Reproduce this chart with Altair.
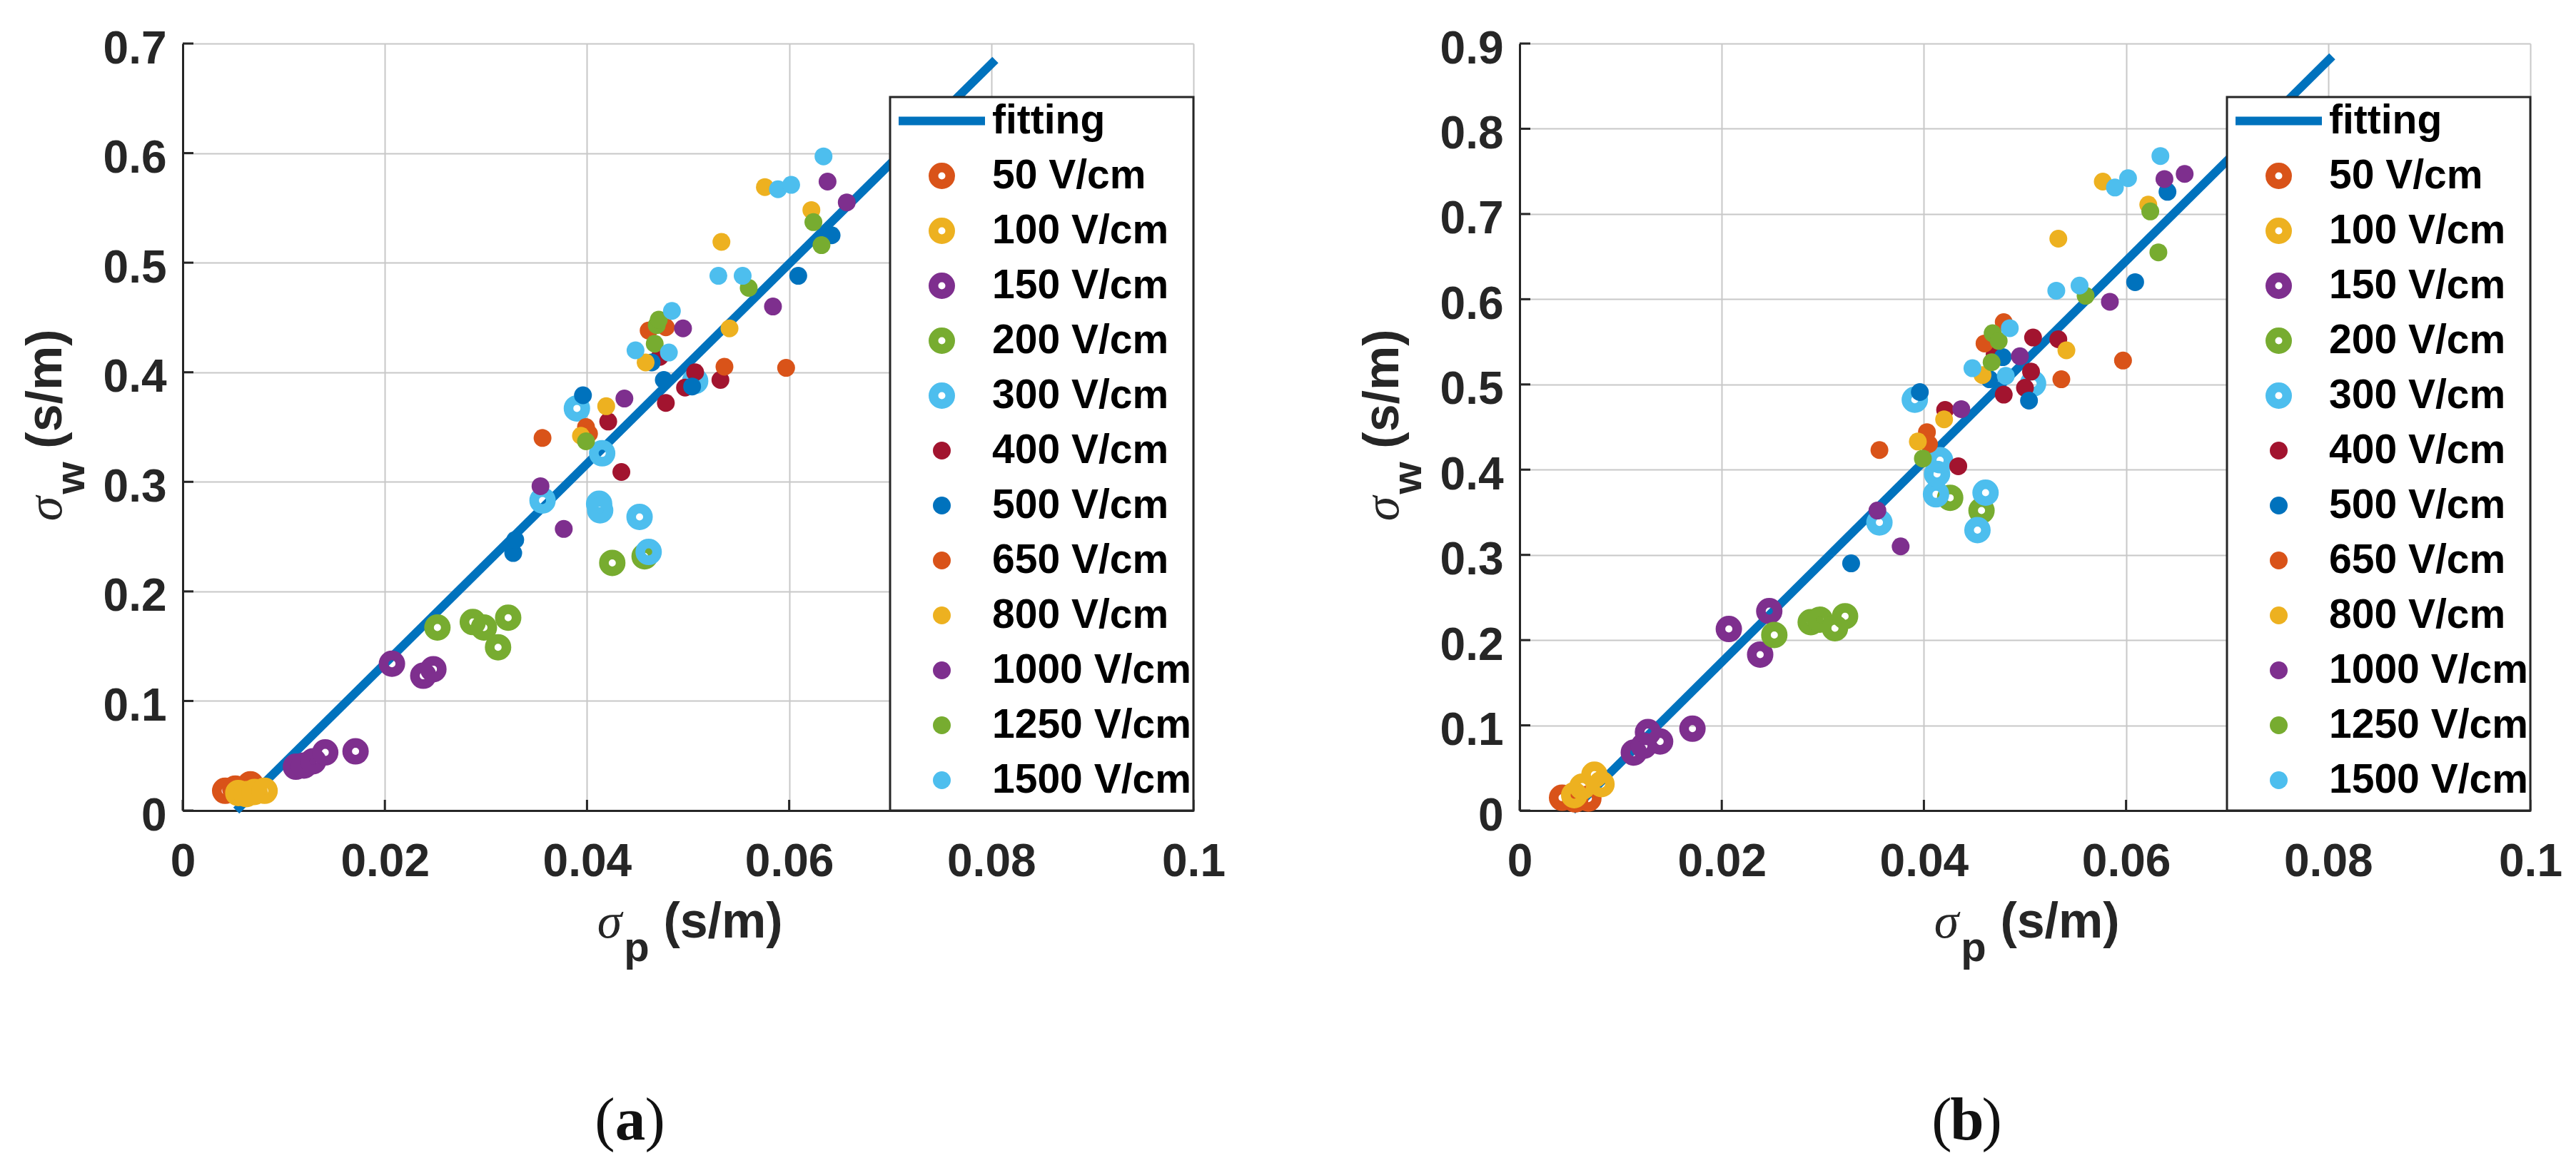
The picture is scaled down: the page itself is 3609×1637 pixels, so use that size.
import altair as alt
import pandas as pd

# ---------------- legend / series definition ----------------
SERIES = ["fitting", "50 V/cm", "100 V/cm", "150 V/cm", "200 V/cm", "300 V/cm",
          "400 V/cm", "500 V/cm", "650 V/cm", "800 V/cm", "1000 V/cm",
          "1250 V/cm", "1500 V/cm"]
LINE_COLOR = "#0072BD"
RING_COLORS = ["#D95319", "#EDB120", "#7E2F8E", "#77AC30", "#4DBEEE"]
DOT_COLORS = ["#A2142F", "#0072BD", "#D95319", "#EDB120", "#7E2F8E", "#77AC30", "#4DBEEE"]
STROKES = ["transparent"] + RING_COLORS + ["transparent"] * 7
FILLS = [LINE_COLOR] + ["transparent"] * 5 + DOT_COLORS
# legend symbol for "fitting": a bar (the extra zero-length sub-paths only set the row height)
SHAPES = ["M-2,-0.2H2V0.2H-2Z M0,-1.28L0,-1.28 M0,1.28L0,1.28"] + ["circle"] * 12
SIZES = [3660.25] + [552] * 5 + [625] * 7
STROKE_W = [0] + [13.5] * 5 + [13.125] * 7

X_TICKS = [0, 0.02, 0.04, 0.06, 0.08, 0.1]
A_Y_TICKS = [0, 0.1, 0.2, 0.3, 0.4, 0.5, 0.6, 0.7]
B_Y_TICKS = [0, 0.1, 0.2, 0.3, 0.4, 0.5, 0.6, 0.7, 0.8, 0.9]

# ---------------- panel (a) data ----------------
A_FIT_X = [0.0053, 0.0804]
A_FIT_Y = [0.0, 0.685]
A50_X = [0.0042, 0.0052, 0.0067]
A50_Y = [0.018, 0.020, 0.024]
A100_X = [0.0055, 0.0063, 0.0071, 0.0081]
A100_Y = [0.016, 0.015, 0.017, 0.018]
A150_X = [0.0112, 0.0120, 0.0129, 0.0141, 0.0171, 0.0207, 0.0238, 0.0248]
A150_Y = [0.040, 0.041, 0.045, 0.053, 0.054, 0.134, 0.123, 0.129]
A200_X = [0.0252, 0.0287, 0.0298, 0.0312, 0.0322, 0.0425, 0.0457]
A200_Y = [0.167, 0.172, 0.167, 0.149, 0.176, 0.226, 0.232]
A300_X = [0.0356, 0.0390, 0.0412, 0.0413, 0.0415, 0.0452, 0.0461, 0.0507]
A300_Y = [0.283, 0.367, 0.280, 0.274, 0.326, 0.268, 0.236, 0.392]
A400_X = [0.0421, 0.0434, 0.0472, 0.0478, 0.0497, 0.0507, 0.0532]
A400_Y = [0.355, 0.309, 0.414, 0.372, 0.386, 0.400, 0.393]
A500_X = [0.0327, 0.0329, 0.0396, 0.0464, 0.0476, 0.0504, 0.0609, 0.0642]
A500_Y = [0.235, 0.247, 0.379, 0.409, 0.393, 0.387, 0.488, 0.525]
A650_X = [0.0356, 0.0399, 0.0402, 0.0461, 0.0478, 0.0536, 0.0597]
A650_Y = [0.340, 0.350, 0.344, 0.438, 0.441, 0.405, 0.404]
A800_X = [0.0394, 0.0419, 0.0458, 0.0533, 0.0541, 0.0576, 0.0622]
A800_Y = [0.342, 0.369, 0.409, 0.519, 0.440, 0.569, 0.548]
A1000_X = [0.0354, 0.0377, 0.0437, 0.0495, 0.0584, 0.0638, 0.0657]
A1000_Y = [0.296, 0.257, 0.376, 0.440, 0.460, 0.574, 0.555]
A1250_X = [0.0399, 0.0467, 0.0469, 0.0471, 0.0560, 0.0624, 0.0632]
A1250_Y = [0.337, 0.426, 0.443, 0.448, 0.477, 0.537, 0.516]
A1500_X = [0.0448, 0.0481, 0.0484, 0.0530, 0.0554, 0.0589, 0.0602, 0.0634]
A1500_Y = [0.420, 0.418, 0.456, 0.488, 0.488, 0.567, 0.571, 0.597]

# ---------------- panel (b) data ----------------
B_FIT_X = [0.0052, 0.0804]
B_FIT_Y = [0.0, 0.885]
B50_X = [0.0042, 0.0055, 0.0068]
B50_Y = [0.015, 0.013, 0.014]
B100_X = [0.0054, 0.0062, 0.0074, 0.0081]
B100_Y = [0.018, 0.028, 0.042, 0.031]
B150_X = [0.0113, 0.0123, 0.0127, 0.0139, 0.0171, 0.0207, 0.0238, 0.0247]
B150_Y = [0.068, 0.076, 0.092, 0.081, 0.096, 0.213, 0.183, 0.234]
B200_X = [0.0252, 0.0288, 0.0297, 0.0312, 0.0322, 0.0426, 0.0457]
B200_Y = [0.206, 0.221, 0.224, 0.214, 0.228, 0.367, 0.352]
B300_X = [0.0356, 0.0391, 0.0412, 0.0413, 0.0416, 0.0453, 0.0461, 0.0508]
B300_Y = [0.338, 0.482, 0.371, 0.395, 0.411, 0.329, 0.373, 0.501]
B400_X = [0.0421, 0.0434, 0.0470, 0.0479, 0.0500, 0.0506, 0.0508, 0.0533]
B400_Y = [0.470, 0.404, 0.535, 0.488, 0.496, 0.515, 0.555, 0.553]
B500_X = [0.0328, 0.0396, 0.0465, 0.0478, 0.0504, 0.0609, 0.0641]
B500_Y = [0.290, 0.491, 0.506, 0.532, 0.481, 0.620, 0.726]
B650_X = [0.0356, 0.0403, 0.0405, 0.0460, 0.0479, 0.0536, 0.0597]
B650_Y = [0.423, 0.444, 0.430, 0.548, 0.573, 0.506, 0.528]
B800_X = [0.0394, 0.0420, 0.0458, 0.0533, 0.0541, 0.0577, 0.0622]
B800_Y = [0.433, 0.459, 0.511, 0.671, 0.540, 0.738, 0.711]
B1000_X = [0.0354, 0.0377, 0.0437, 0.0495, 0.0584, 0.0638, 0.0658]
B1000_Y = [0.352, 0.310, 0.471, 0.533, 0.597, 0.741, 0.747]
B1250_X = [0.0399, 0.0467, 0.0468, 0.0474, 0.0560, 0.0624, 0.0632]
B1250_Y = [0.413, 0.526, 0.560, 0.551, 0.604, 0.703, 0.655]
B1500_X = [0.0448, 0.0481, 0.0485, 0.0531, 0.0554, 0.0589, 0.0602, 0.0634]
B1500_Y = [0.519, 0.510, 0.566, 0.610, 0.616, 0.731, 0.742, 0.768]

A_SETS = [(A50_X, A50_Y), (A100_X, A100_Y), (A150_X, A150_Y), (A200_X, A200_Y),
          (A300_X, A300_Y), (A400_X, A400_Y), (A500_X, A500_Y), (A650_X, A650_Y),
          (A800_X, A800_Y), (A1000_X, A1000_Y), (A1250_X, A1250_Y), (A1500_X, A1500_Y)]
B_SETS = [(B50_X, B50_Y), (B100_X, B100_Y), (B150_X, B150_Y), (B200_X, B200_Y),
          (B300_X, B300_Y), (B400_X, B400_Y), (B500_X, B500_Y), (B650_X, B650_Y),
          (B800_X, B800_Y), (B1000_X, B1000_Y), (B1250_X, B1250_Y), (B1500_X, B1500_Y)]


def points_frame(sets):
    rows = []
    for name, (xs, ys) in zip(SERIES[1:], sets):
        for x, y in zip(xs, ys):
            rows.append({"series": name, "x": x, "y": y})
    return pd.DataFrame(rows)


W, H = 1416, 1075
SANS = "Liberation Sans"
SERIF = "Liberation Serif"
INK = "#262626"


def txt(text, x, y, size, font=SANS, weight="bold", style="normal", angle=0,
        align="center", baseline="alphabetic", color=INK):
    return alt.Chart(pd.DataFrame({"t": [text]})).mark_text(
        font=font, fontSize=size, fontWeight=weight, fontStyle=style,
        angle=angle, align=align, baseline=baseline, color=color
    ).encode(text="t:N", x=alt.value(x), y=alt.value(y))


def ord_scale(rng):
    return alt.Scale(type="ordinal", domain=SERIES, range=rng)


def panel(sets, fit_x, fit_y, ymax, yticks, letter):
    xs = alt.Scale(domain=[0, 0.1], nice=False, zero=False)
    ys = alt.Scale(domain=[0, ymax], nice=False, zero=False)
    xaxis = alt.Axis(values=X_TICKS, format="~g", title=None, ticks=False,
                     labelPadding=40, labelFlush=False, labelOverlap=False)
    yaxis = alt.Axis(values=yticks, format="~g", title=None, ticks=False,
                     labelPadding=23, labelOffset=8, labelOverlap=False)
    leg = alt.Legend(title=None, orient="bottom-right", offset=0, padding=3,
                     rowPadding=-2, labelFont=SANS, labelFontSize=57,
                     labelFontWeight="bold", labelColor="#000000", labelLimit=2000,
                     labelOffset=40, strokeColor=INK, fillColor="white",
                     symbolOffset=39)
    X = alt.X("x:Q", scale=xs, axis=xaxis)
    Y = alt.Y("y:Q", scale=ys, axis=yaxis)

    fit_df = pd.DataFrame({"x": fit_x, "y": fit_y})
    line = alt.Chart(fit_df).mark_line(color=LINE_COLOR, strokeWidth=12, strokeCap="butt").encode(
        x=X, y=Y)

    pts = alt.Chart(points_frame(sets)).mark_point(filled=True, opacity=1).encode(
        x=X, y=Y,
        stroke=alt.Stroke("series:N", scale=alt.Scale(domain=SERIES, range=STROKES), legend=leg),
        fill=alt.Fill("series:N", scale=alt.Scale(domain=SERIES, range=FILLS), legend=leg),
        shape=alt.Shape("series:N", scale=alt.Scale(domain=SERIES, range=SHAPES), legend=leg),
        size=alt.Size("series:N", scale=ord_scale(SIZES), legend=leg),
        strokeWidth=alt.StrokeWidth("series:N", scale=ord_scale(STROKE_W), legend=leg),
    )

    xt = alt.Chart(pd.DataFrame({"x": X_TICKS})).mark_rule(color=INK, strokeWidth=3).encode(
        x=X, y=alt.value(H), y2=alt.value(H - 15))
    yt = alt.Chart(pd.DataFrame({"y": yticks})).mark_rule(color=INK, strokeWidth=3).encode(
        y=Y, x=alt.value(0), x2=alt.value(15))

    texts = [
        # x title: sigma_p (s/m)
        txt("σ", 598, H + 178, 70, font=SERIF, weight="normal", style="italic"),
        txt("p", 636, H + 211, 58),
        txt("(s/m)", 757, H + 178, 70),
        # y title: sigma_w (s/m), rotated
        txt("σ", -170, 652, 70, font=SERIF, weight="normal", style="italic", angle=270),
        txt("w", -138, 609, 58, angle=270),
        txt("(s/m)", -170, 484, 70, angle=270),
        # caption
        txt("(", 605.5, 1536, 85, font=SERIF, weight="normal", align="right", color="#111111"),
        txt(letter, 627, 1536, 85, font=SERIF, weight="bold", color="#111111"),
        txt(")", 647.5, 1536, 85, font=SERIF, weight="normal", align="left", color="#111111"),
    ]
    return alt.layer(line, pts, xt, yt, *texts).properties(width=W, height=H)


pa = panel(A_SETS, A_FIT_X, A_FIT_Y, 0.7, A_Y_TICKS, "a")
pb = panel(B_SETS, B_FIT_X, B_FIT_Y, 0.9, B_Y_TICKS, "b")

chart = alt.hconcat(pa, pb, spacing=186).resolve_scale(
    x="independent", y="independent", stroke="independent", fill="independent",
    shape="independent", size="independent", strokeWidth="independent"
).properties(
    padding={"left": 22, "top": 29, "right": 5, "bottom": 5}
).configure_view(stroke=None).configure_axis(
    domainColor=INK, domainWidth=3, gridColor="#c8c8c8", gridWidth=2,
    labelFont=SANS, labelFontSize=64, labelFontWeight="bold", labelColor=INK
).configure_legend(strokeWidth=3)

chart.save("out.html", embed_options={"renderer": "svg", "actions": False})
